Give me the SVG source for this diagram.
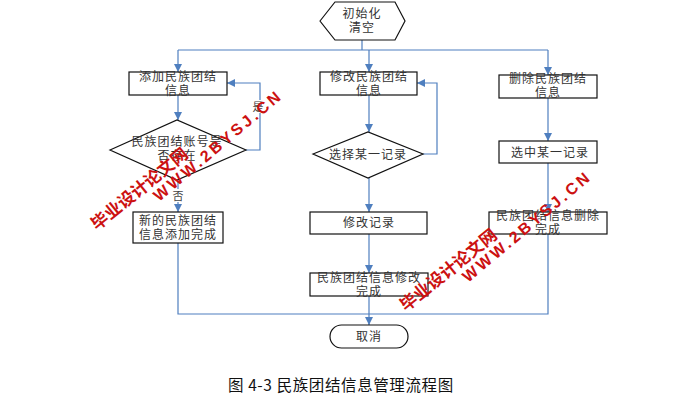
<svg xmlns="http://www.w3.org/2000/svg" width="700" height="408" viewBox="0 0 700 408">
<defs>
<marker id="arr" markerUnits="userSpaceOnUse" markerWidth="9" markerHeight="8" refX="8" refY="4" orient="auto">
<path d="M0,0 L8,4 L0,8 z" fill="#4f7fbf"/>
</marker>
<style>
.box{fill:#fff;stroke:#111;stroke-width:1.2}
.t{font-family:"Noto Sans CJK SC","Noto Sans CJK JP",sans-serif;font-size:12px;fill:#333;text-anchor:middle;letter-spacing:1px}
.c{fill:none;stroke:#4f7fbf;stroke-width:1.2}
.ca{fill:none;stroke:#4f7fbf;stroke-width:1.2;marker-end:url(#arr)}
.lbl{font-family:"Noto Sans CJK SC",sans-serif;font-size:11px;fill:#444;text-anchor:middle}
.wm{font-family:"Noto Sans CJK SC",sans-serif;font-size:17px;font-weight:bold;fill:#cc1111}
.wm2{font-family:"Liberation Sans",Arial,sans-serif;font-size:16px;font-weight:bold;fill:#cc1111;letter-spacing:3px}
</style>
</defs>
<rect width="700" height="408" fill="#fff"/>

<g id="connectors">
<path class="c" d="M362,40 V50 M178,50 H548"/>
<path class="ca" d="M178,50 V72"/>
<path class="ca" d="M369,50 V72"/>
<path class="ca" d="M548,50 V75"/>
<path class="ca" d="M178,95 V120"/>
<path class="ca" d="M246,150 H260 V83 H227"/>
<path class="ca" d="M178,180 V212"/>
<path class="c" d="M178,243 V314 H548 V234"/>
<path class="ca" d="M369,95 V132"/>
<path class="ca" d="M423,154 H437 V83 H417"/>
<path class="ca" d="M369,178 V212"/>
<path class="ca" d="M369,234 V273"/>
<path class="ca" d="M369,296 V325"/>
<path class="ca" d="M548,98 V141"/>
<path class="ca" d="M548,163 V212"/>
<rect x="252" y="100" width="12" height="13" fill="#fff"/>
<text class="lbl" x="258" y="111">是</text>
<rect x="172" y="189" width="12" height="13" fill="#fff"/>
<text class="lbl" x="178" y="200">否</text>
</g>

<g id="start">
<polygon class="box" points="320,21 335,2 395,2 405,21 395,40 335,40"/>
<text class="t"><tspan x="362" y="18">初始化</tspan><tspan x="362" dy="14">清空</tspan></text>
</g>

<g id="add">
<rect class="box" x="129" y="72" width="98" height="23"/>
<text class="t"><tspan x="178" y="81">添加民族团结</tspan><tspan x="178" dy="14">信息</tspan></text>
</g>

<g id="modify">
<rect class="box" x="320" y="72" width="97" height="23"/>
<text class="t"><tspan x="369" y="81">修改民族团结</tspan><tspan x="369" dy="14">信息</tspan></text>
</g>

<g id="delete">
<rect class="box" x="499" y="75" width="98" height="23"/>
<text class="t"><tspan x="548" y="83">删除民族团结</tspan><tspan x="548" dy="14">信息</tspan></text>
</g>

<g id="check">
<polygon class="box" points="110,150 177,120 246,150 177,180"/>
<text class="t"><tspan x="177" y="146">民族团结账号是</tspan><tspan x="177" dy="14">否存在</tspan></text>
</g>

<g id="addDone">
<rect class="box" x="133" y="212" width="90" height="31"/>
<text class="t"><tspan x="178" y="225">新的民族团结</tspan><tspan x="178" dy="14">信息添加完成</tspan></text>
</g>

<g id="select">
<polygon class="box" points="313,154 368,132 423,154 368,178"/>
<text class="t" x="368" y="159">选择某一记录</text>
</g>

<g id="modRec">
<rect class="box" x="310" y="212" width="117" height="22"/>
<text class="t" x="369" y="227">修改记录</text>
</g>

<g id="modDone">
<rect class="box" x="310" y="273" width="118" height="23"/>
<text class="t"><tspan x="369" y="282">民族团结信息修改</tspan><tspan x="369" dy="14">完成</tspan></text>
</g>

<g id="pick">
<rect class="box" x="499" y="141" width="98" height="22"/>
<text class="t" x="550" y="157">选中某一记录</text>
</g>

<g id="delDone">
<rect class="box" x="489" y="212" width="118" height="22"/>
<text class="t"><tspan x="548" y="220">民族团结信息删除</tspan><tspan x="548" dy="14">完成</tspan></text>
</g>

<g id="cancel">
<rect class="box" x="330" y="325" width="78" height="23" rx="11.5" ry="11.5"/>
<text class="t" x="369" y="341">取消</text>
</g>

<text x="228" y="391" style="font-family:'Noto Sans CJK SC',sans-serif;font-size:15.5px;fill:#111;letter-spacing:0.6px">图 4-3 民族团结信息管理流程图</text>

<g id="watermarks">
<text class="wm" transform="translate(97,231) rotate(-39)">毕业设计论文网</text>
<text class="wm2" transform="translate(159,202) rotate(-40)">WWW.2BYSJ.CN</text>
<text class="wm" transform="translate(406,312) rotate(-39)">毕业设计论文网</text>
<text class="wm2" transform="translate(468,283) rotate(-40)">WWW.2BYSJ.CN</text>
</g>
</svg>
